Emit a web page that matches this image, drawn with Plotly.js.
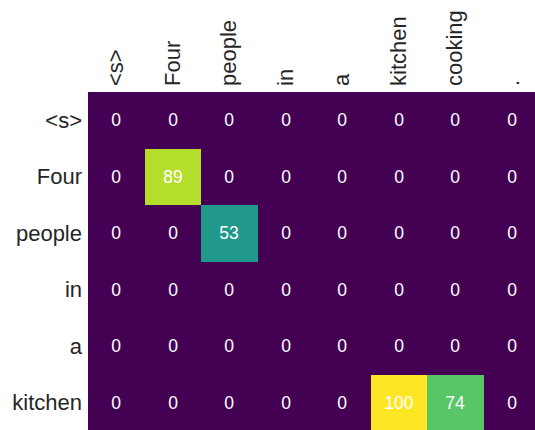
<!DOCTYPE html>
<html>
<head>
<meta charset="utf-8">
<script src="https://cdn.plot.ly/plotly-3.0.1.min.js"></script>
<style>
html,body{margin:0;padding:0;overflow:hidden;background:#fff;}
#chart{width:545px;height:436px;}
</style>
</head>
<body>
<div id="chart"></div>
<script>
var colTokens = ["<s>", "Four", "people", "in", "a", "kitchen", "cooking", "."];
var rowTokens = ["<s>", "Four", "people", "in", "a", "kitchen"];
var values = [
  [0, 0, 0, 0, 0, 0, 0, 0],
  [0, 89, 0, 0, 0, 0, 0, 0],
  [0, 0, 53, 0, 0, 0, 0, 0],
  [0, 0, 0, 0, 0, 0, 0, 0],
  [0, 0, 0, 0, 0, 0, 0, 0],
  [0, 0, 0, 0, 0, 100, 74, 0]
];

function esc(s){ return s.replace(/&/g,"&amp;").replace(/</g,"&lt;").replace(/>/g,"&gt;"); }
var xIdx = colTokens.map(function(_, i){ return i; });
var yIdx = rowTokens.map(function(_, i){ return i; });

var trace = {
  type: "heatmap",
  z: values,
  x: xIdx,
  y: yIdx,
  colorscale: "Viridis",
  zmin: 0,
  zmax: 100,
  showscale: false,
  texttemplate: "%{z}",
  textfont: {family: "Liberation Sans, Arial, sans-serif", size: 17.5, color: "#ffffff"},
  hoverinfo: "none"
};

var layout = {
  width: 545,
  height: 436,
  margin: {l: 88, r: 5, t: 91.5, b: 5, pad: 0},
  paper_bgcolor: "#ffffff",
  plot_bgcolor: "#ffffff",
  font: {family: "Liberation Sans, Arial, sans-serif", size: 22, color: "#262626"},
  xaxis: {
    side: "top",
    tickmode: "array",
    tickvals: xIdx,
    ticktext: colTokens.map(esc),
    tickangle: -90,
    ticks: "",
    showgrid: false,
    zeroline: false,
    showline: false,
    range: [-0.5, 7.5],
    ticklabelstandoff: 5
  },
  yaxis: {
    tickmode: "array",
    tickvals: yIdx,
    ticktext: rowTokens.map(esc),
    autorange: false,
    range: [5.5, -0.5],
    ticks: "",
    showgrid: false,
    zeroline: false,
    showline: false,
    ticklabelstandoff: 5
  }
};

Plotly.newPlot("chart", [trace], layout, {staticPlot: true, displayModeBar: false});
</script>
</body>
</html>
